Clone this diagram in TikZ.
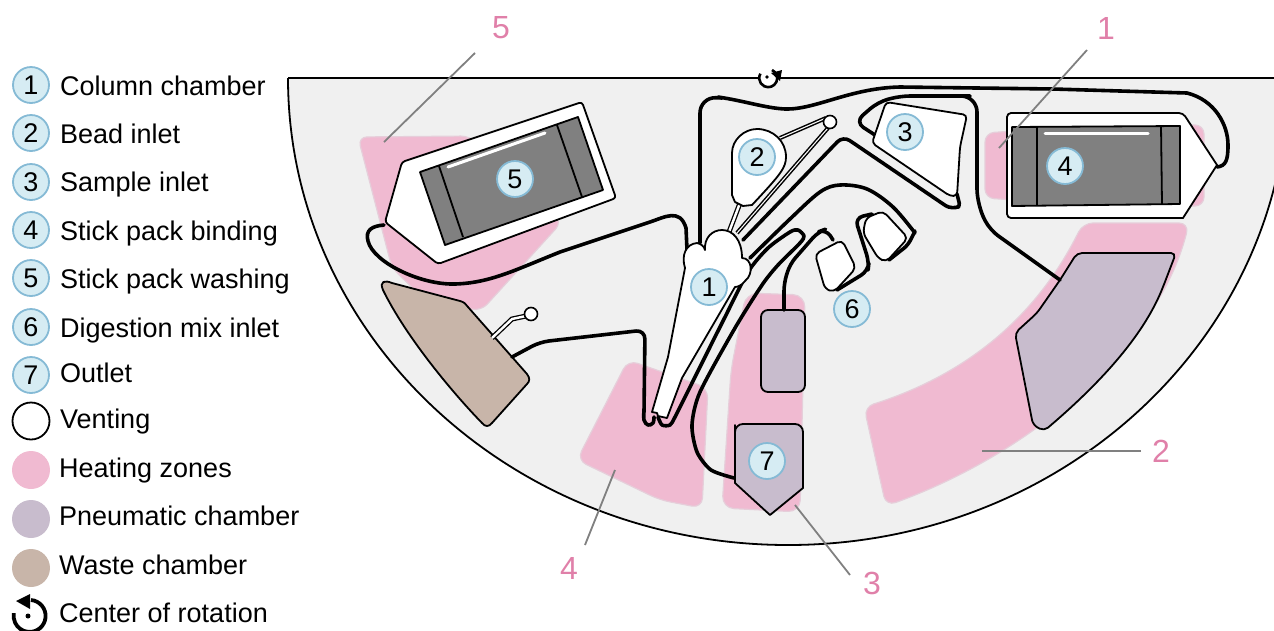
\documentclass[tikz,border=0pt]{standalone}
\usepackage{fontspec}
\setmainfont{Liberation Sans}
\definecolor{disc}{HTML}{F0F0F0}
\definecolor{heat}{HTML}{F0BAD1}
\definecolor{heatedge}{HTML}{E6CEDA}
\definecolor{pneu}{HTML}{C8BCCD}
\definecolor{waste}{HTML}{C8B5A9}
\definecolor{stick}{HTML}{808080}
\definecolor{numfill}{HTML}{D6ECF3}
\definecolor{numedge}{HTML}{85BAD5}
\definecolor{lab}{HTML}{E080A9}
\tikzset{
  num/.style={circle,draw=numedge,fill=numfill,line width=1.8pt,minimum size=36pt,inner sep=0pt,font=\fontsize{27}{29}\selectfont},
  legtext/.style={anchor=base west,inner sep=0pt,font=\fontsize{27}{30}\selectfont},
  swatch/.style={circle,minimum size=38pt,inner sep=0pt},
  chan/.style={draw=black,line width=3.6pt,line cap=round,line join=round},
  outl/.style={draw=black,line width=1.8pt,line join=round},
  vent/.style={draw=black,line width=1.3pt,double=white,double distance=2.4pt,line cap=butt},
  ventb/.style={draw=black,line width=1.5pt,double=white!70!disc,double distance=1.1pt,line cap=butt},
  ventc/.style={circle,draw=black,fill=white,line width=1.6pt,minimum size=13pt,inner sep=0pt},
  zone/.style={fill=heat,draw=heatedge,line width=1.2pt},
  leader/.style={draw=stick,line width=1.8pt},
  callout/.style={text=lab,font=\fontsize{32}{34}\selectfont,inner sep=0pt},
}
\begin{document}
\begin{tikzpicture}[x=1pt,y=-1pt]
\useasboundingbox (0,0) rectangle (1274,630);
\clip (0,0) rectangle (1274,630);
% disc
\fill[disc] (288,78) arc[start angle=180,end angle=360,x radius=500pt,y radius=467pt] -- cycle;
% heating zones
\path[zone,rounded corners=9pt] (358,137) -- (470,136) -- (562,222) -- (481,311) -- (425,300) -- (392,268) -- cycle;
\path[zone,rounded corners=9pt] (985,133) -- (1100,125) -- (1204,125) -- (1204,206) -- (1100,206) -- (985,198) -- cycle;
\path[zone,rounded corners=10pt] (864,407) .. controls (950,380) and (1030,330) .. (1083,223) -- (1189,223) .. controls (1160,340) and (1040,450) .. (886,506) -- cycle;
\path[zone,rounded corners=12pt] (746,293) -- (805,295) -- (800,512) -- (722,508) -- (731,370) -- cycle;
\path[zone,rounded corners=10pt] (577,460) -- (628,360) -- (708,388) -- (702,508) -- (660,500) -- cycle;
% chambers with fill
\path[outl,fill=waste] (383,290) .. controls (379,281) and (385,280) .. (392,283) -- (460,301) .. controls (464,302) and (466,304) .. (468,307) -- (527,374) .. controls (530,378) and (530,381) .. (527,384) -- (492,423) .. controls (489,427) and (485,427) .. (482,423) .. controls (450,390) and (405,335) .. (383,290) -- cycle;
\path[outl,fill=pneu,rounded corners=7pt] (761,310) rectangle (805,392);
\path[outl,fill=pneu,rounded corners=5pt] (1077,253) -- (1176,253) -- (1163,287) .. controls (1145,330) and (1110,375) .. (1044,431) -- (1033,425) -- (1015,333) -- (1037,313) -- (1060,280) -- cycle;
\path[outl,fill=pneu,rounded corners=3pt] (735,433) [sharp corners] -- (735,483) -- (770,515) -- (803,488) -- (803,433) [rounded corners=8pt] -- (803,424) -- (735,424) -- cycle;
% channels
\draw[chan,rounded corners=16pt] (700,243) -- (700,97) -- (722,98);
\draw[chan] (718,97) .. controls (745,101) and (765,108) .. (785,109) .. controls (815,110) and (850,88) .. (900,87) -- (1053,89) -- (1187,93) .. controls (1215,100) and (1228,125) .. (1228,145) .. controls (1228,160) and (1226,166) .. (1217,167);
\draw[chan,rounded corners=10pt] (875,135) -- (855,122) -- (878,102) -- (900,96) -- (960,96) [rounded corners=16pt] -- (977,96) -- (977,205) [rounded corners=10pt] -- (990,230) -- (1060,280);
\draw[chan,rounded corners=8pt] (743,240) -- (843,136) -- (952,210) [rounded corners=3pt] -- (960,206) -- (957,194);
\draw[chan] plot[smooth,tension=.55] coordinates {(750,258) (790,219) (820,192) (840,185) (867,189) (893,207) (915,233)};
\draw[chan,rounded corners=5pt] (915,231) -- (908,245) -- (889,260);
\draw[chan,rounded corners=8pt] (872,214) -- (855,218) -- (869,262) -- (868,271) -- (837,290);
\draw[chan,rounded corners=8pt] (833,240) -- (826,229) -- (818,232) -- (790,264) -- (784,283) -- (784,310);
% siphon
\draw[chan] plot[smooth,tension=.45] coordinates {(658,417) (662,425) (670,425) (675,417) (690,387) (725,317) (748,272) (768,248) (790,232) (798,230) (804,236) (800,243) (778,265) (762,285) (735,328) (700,392) (692,425) (697,452) (711,470) (734,478)};
% washing chamber to column
\draw[chan] (384,225) .. controls (372,226) and (365,230) .. (368,241) .. controls (373,262) and (420,285) .. (455,284) .. controls (490,283) and (515,270) .. (560,252) -- (650,222) .. controls (665,217) and (680,208) .. (686,228) -- (687,250);
\draw[chan,rounded corners=9pt] (512,357) -- (540,342) -- (645,330) -- (644,412);
\draw[chan] plot[smooth,tension=.6] coordinates {(644,410) (644,420) (648,425) (653,423) (654,417)};
% vent lines
\draw[vent] (492,338) -- (512,319) -- (526,316);
\draw[ventb] (780,138) -- (826,118);
\draw[ventb] (828,128) -- (737,233);
\draw[vent] (740,203) -- (729,232);
% column chamber
\path[outl,fill=white] (682,378) -- (667,418) -- (658,416) -- (657,413) -- (652,412) -- (668,357) -- (685,268)
  .. controls (681,255) and (686,244) .. (697,243)
  .. controls (701,244) and (704,246) .. (705,250)
  .. controls (704,238) and (712,230) .. (722,230)
  .. controls (733,230) and (742,240) .. (742,258)
  .. controls (752,258) and (754,274) .. (745,281)
  .. controls (742,285) and (738,287) .. (735,287) -- cycle;
% bead inlet
\path[outl,fill=white] (732,153) .. controls (732,140) and (744,129) .. (757,129) .. controls (773,129) and (786,141) .. (786,157) .. controls (786,168) and (780,175) .. (752,205) -- (743,206) -- (735,202) -- (732,195) -- cycle;
% sample inlet
\path[outl,fill=white,rounded corners=4pt] (886,102) -- (967,115) -- (960,147) -- (957,196) -- (950,196) -- (872,143) -- cycle;
% digestion inlets
\path[outl,fill=white,rounded corners=5pt] (883,211) -- (908,238) -- (886,262) -- (878,258) -- (863,233) -- (866,218) -- cycle;
\path[outl,fill=white,rounded corners=5pt] (815,254) -- (842,240) -- (856,268) -- (834,292) -- (825,289) -- cycle;
% stick pack washing
\path[outl,fill=white,rounded corners=3pt] (402,162) -- (582,102) -- (616,198) -- (438,264) -- (385,222) -- cycle;
\path[outl,fill=stick] (420,172) -- (578,117) -- (603,190) -- (445,245) -- cycle;
\draw[outl] (439,166) -- (463,237);
\draw[outl] (557,125) -- (582,197);
\draw[white,line width=3pt,line cap=round] (448,167) -- (545,133);
% stick pack binding
\path[outl,fill=white,rounded corners=4pt] (1007,113) -- (1183,113) [sharp corners] -- (1217,165) -- (1183,218) [rounded corners=4pt] -- (1007,218) -- cycle;
\path[outl,fill=stick] (1012,127) -- (1180,126) -- (1180,204) -- (1012,206) -- cycle;
\draw[outl] (1037,127) -- (1037,205);
\draw[outl] (1161,126) -- (1162,204);
\draw[white,line width=3pt,line cap=round] (1045,133) -- (1148,133);
% disc outline on top
\draw[line width=1.8pt] (288,78) arc[start angle=180,end angle=360,x radius=500pt,y radius=467pt];
\draw[line width=2pt] (288,78) -- (1274,78);
% vents
\node[ventc] (v1) at (531,314) {};
\node[ventc] (v2) at (830,122) {};
% rotation symbol on disc
\fill[white] (768,78) circle (9);
\draw[line width=2.6pt] (772,70) arc[start angle=65,end angle=-210,radius=9pt];
\fill (767,77) circle (1.8);
\fill (771,73) -- (782,70) -- (780,81) -- cycle;
% numbers on the drawing
\node[num] (n1) at (709,287) {1};
\node[num] (n2) at (757,157) {2};
\node[num] (n3) at (905,132) {3};
\node[num] (n4) at (1065,166) {4};
\node[num] (n5) at (515,179) {5};
\node[num] (n6) at (852,309) {6};
\node[num] (n7) at (767,461) {7};
% leaders
\node[callout] (c1) at (1106,28) {1};
\node[callout] (c2) at (1161,451) {2};
\node[callout] (c3) at (872,583) {3};
\node[callout] (c4) at (569,568) {4};
\node[callout] (c5) at (501,28) {5};
\coordinate (a1) at (1087,50); \coordinate (b1) at (999,148);
\coordinate (a2) at (1141,451); \coordinate (b2) at (982,451);
\coordinate (a3) at (850,575); \coordinate (b3) at (795,505);
\coordinate (a4) at (585,545); \coordinate (b4) at (615,470);
\coordinate (a5) at (475,53); \coordinate (b5) at (384,142);
\draw[leader] (a1) -- (b1);
\draw[leader] (a2) -- (b2);
\draw[leader] (a3) -- (b3);
\draw[leader] (a4) -- (b4);
\draw[leader] (a5) -- (b5);
% legend
\foreach \i/\yy/\bl/\t in {1/85/95/Column chamber,2/133/143/Bead inlet,3/182/191/Sample inlet,4/230/240/Stick pack binding,5/278/288/Stick pack washing,6/327/337/Digestion mix inlet,7/375/382/Outlet}{
  \node[num] (leg\i) at (31,\yy) {\i};
  \node[legtext] (legt\i) at (60,\bl) {\t};
}
\node[swatch,draw=black,fill=white,line width=1.8pt,minimum size=37pt] (sv) at (31,421) {};
\node[legtext] (tv) at (60,428) {Venting};
\node[swatch,fill=heat] (sh) at (31,470) {};
\node[legtext] (th) at (59,477) {Heating zones};
\node[swatch,fill=pneu] (sp) at (31,519) {};
\node[legtext] (tp) at (59,525) {Pneumatic chamber};
\node[swatch,fill=waste] (sw) at (31,568) {};
\node[legtext] (tw) at (59,574) {Waste chamber};
\node[legtext] (tc) at (59,622) {Center of rotation};
% legend rotation symbol
\draw[line width=3.8pt] (31,600) arc[start angle=85,end angle=-190,radius=16pt];
\fill (28,616) circle (2.5);
\fill (16,601) -- (30,594) -- (30,609) -- cycle;
\end{tikzpicture}
\end{document}
